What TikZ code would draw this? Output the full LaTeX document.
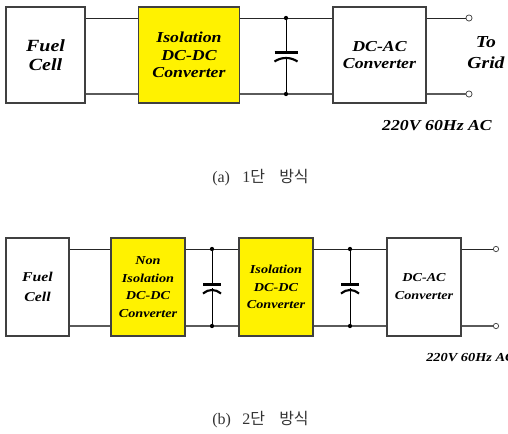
\documentclass[tikz,border=0pt]{standalone}
\usepackage{fontspec}
\setmainfont{Liberation Serif}
\newfontfamily\lbfont[FakeStretch=1.17]{Liberation Serif}
\newfontfamily\krfont{Noto Sans CJK KR}
\definecolor{wiregray}{RGB}{90,90,90}
\newcommand{\lf}[2]{\fontsize{#1}{#2}\lbfont\bfseries\itshape}
\tikzset{
  x=0.75pt,y=-0.75pt,
  boxa/.style={draw=black!75,line width=0.8pt,inner sep=0pt,align=center},
  plain/.style={boxa,fill=white},
  yel/.style={boxa,fill=yellow},
  wiret/.style={draw=black!85,line width=0.75pt},
  wireb/.style={draw=wiregray,line width=0.95pt},
  dotn/.style={circle,fill=black,inner sep=0pt,minimum size=3.2pt},
  term/.style={circle,draw=black!70,fill=white,inner sep=0pt,minimum size=4.6pt,line width=0.6pt},
  lbl/.style={align=center,inner sep=0pt},
  capt/.style={font=\fontsize{12}{14}\selectfont,inner sep=0pt,text=black!80,anchor=base west}
}
\newcommand{\mybox}[8]{\node[#2,font=#8,minimum width=#5*0.75pt,minimum height=#6*0.75pt] (#1) at (#3,#4) {#7};}
\newcommand{\mycap}[3]{% half width, x, ymid
  \draw[line width=1.6pt,black] (#2-#1,#3-1.5) -- (#2+#1,#3-1.5);
  \draw[line width=1.6pt,black] (#2-#1,#3+7.5) .. controls (#2-#1*0.4,#3+2.8) and (#2+#1*0.4,#3+2.8) .. (#2+#1,#3+7.5);
}
\begin{document}
\begin{tikzpicture}
\useasboundingbox (0,0) rectangle (508,433);
% --- (a)
\mybox{fa}{plain}{45.5}{55}{79}{96}{Fuel\\Cell}{\lf{12.8}{14.6}}
\mybox{ia}{yel}{189}{55}{101}{96}{Isolation\\DC-DC\\Converter}{\lf{11.4}{13.1}}
\mybox{da}{plain}{379.5}{55}{93}{96}{DC-AC\\Converter}{\lf{11.4}{13.1}}
\node[dotn] (cat) at (286,18) {};
\node[dotn] (cab) at (286,94) {};
\node[term] (tat) at (469,18) {};
\node[term] (tab) at (469,94) {};
\draw[wiret] (fa.east |- cat) -- (ia.west |- cat);
\draw[wiret] (ia.east |- cat) -- (cat) -- (da.west |- cat);
\draw[wiret] (da.east |- cat) -- (tat);
\draw[wireb] (fa.east |- cab) -- (ia.west |- cab);
\draw[wireb] (ia.east |- cab) -- (cab) -- (da.west |- cab);
\draw[wireb] (da.east |- cab) -- (tab);
\draw[black,line width=0.75pt] (cat) -- (cab);
\fill[white] (274,53) rectangle (298,57);
\mycap{11.5}{286}{54}
\node[lbl,font=\lf{12.6}{15.75}] (grid) at (486,52.5) {To\\Grid};
\node[lbl,font=\lf{11.4}{14}] (va) at (437,126) {220V 60Hz AC};
\node[capt] (cpa) at (212,182.5) {(a)};
\node[capt] (cpa1) at (242,182.5) {1{\krfont 단}};
\node[capt] (cpa2) at (279,182.5) {\krfont 방식};
% --- (b)
\mybox{fb}{plain}{37.5}{287}{63}{98}{Fuel\\Cell}{\lf{10.1}{15}}
\mybox{nb}{yel}{148}{287}{74}{98}{Non\\Isolation\\DC-DC\\Converter}{\lf{9.1}{13.2}}
\mybox{ib}{yel}{276}{287}{74}{98}{Isolation\\DC-DC\\Converter}{\lf{9.1}{13.2}}
\mybox{db}{plain}{424}{287}{74}{98}{DC-AC\\Converter}{\lf{9.1}{13.5}}
\node[dotn] (c1t) at (212,249) {};
\node[dotn] (c1b) at (212,326) {};
\node[dotn] (c2t) at (350,249) {};
\node[dotn] (c2b) at (350,326) {};
\node[term,minimum size=4pt] (tbt) at (496,249) {};
\node[term,minimum size=4pt] (tbb) at (496,326) {};
\draw[wiret] (fb.east |- c1t) -- (nb.west |- c1t);
\draw[wiret] (nb.east |- c1t) -- (c1t) -- (ib.west |- c1t);
\draw[wiret] (ib.east |- c2t) -- (c2t) -- (db.west |- c2t);
\draw[wiret] (db.east |- c2t) -- (tbt);
\draw[wireb] (fb.east |- c1b) -- (nb.west |- c1b);
\draw[wireb] (nb.east |- c1b) -- (c1b) -- (ib.west |- c1b);
\draw[wireb] (ib.east |- c2b) -- (c2b) -- (db.west |- c2b);
\draw[wireb] (db.east |- c2b) -- (tbb);
\draw[black,line width=0.75pt] (c1t) -- (c1b);
\draw[black,line width=0.75pt] (c2t) -- (c2b);
\fill[white] (202,285.5) rectangle (222,288);
\fill[white] (340,285.5) rectangle (360,288);
\mycap{9}{212}{286}
\mycap{9}{350}{286}
\node[lbl,font=\lf{9.2}{11},anchor=west] (vb) at (426,358) {220V 60Hz AC};
\node[capt] (cpb) at (212,424.5) {(b)};
\node[capt] (cpb1) at (242,424.5) {2{\krfont 단}};
\node[capt] (cpb2) at (279,424.5) {\krfont 방식};
\end{tikzpicture}
\end{document}
